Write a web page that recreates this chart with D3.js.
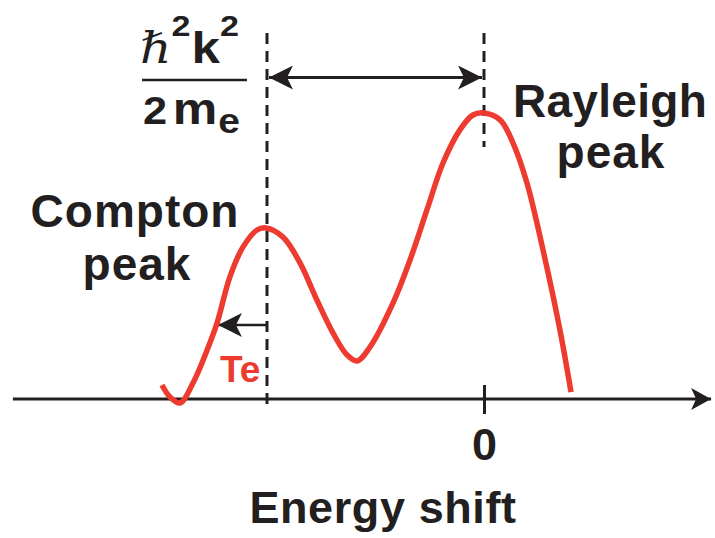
<!DOCTYPE html>
<html>
<head>
<meta charset="utf-8">
<script src="https://cdn.jsdelivr.net/npm/d3@7"></script>
<style>
  html, body { margin: 0; padding: 0; background: #fff; }
  svg { display: block; }
  text { font-family: "Liberation Sans", Arial, Helvetica, sans-serif; font-weight: bold; fill: #231f20; }
</style>
</head>
<body>
<svg id="chart" width="715" height="538"></svg>
<script>
// Energy shift (units of the Compton shift ħ²k²/2mₑ) and relative intensity of the scattered spectrum
const shift = [-1.484, -1.447, -1.401, -1.341, -1.276, -1.230, -1.171, -1.111, -1.046, -1.005,
               -0.926, -0.848, -0.770, -0.696, -0.631, -0.585, -0.525, -0.419, -0.341, -0.263,
               -0.189, -0.111, -0.051, 0.000, 0.074, 0.134, 0.198, 0.272, 0.350, 0.401];
const intensity = [0.049, 0.007, -0.014, 0.056, 0.171, 0.266, 0.427, 0.531, 0.591, 0.598,
                   0.566, 0.476, 0.346, 0.231, 0.154, 0.133, 0.182, 0.336, 0.486, 0.661,
                   0.825, 0.941, 0.993, 1.000, 0.976, 0.895, 0.755, 0.521, 0.241, 0.024];
// Marked positions on the energy axis
const comptonShift = -1;
const rayleighShift = 0;
const teArrowStart = -1.0;
const teArrowEnd = -1.226;
const axisExtent = [-2.171, 1.065];
const tickValues = [0];
const tickLabels = ["0"];

const ink = "#231f20";
const red = "#ee3b30";

const svg = d3.select("#chart");
const x = d3.scaleLinear().domain([comptonShift, rayleighShift]).range([267, 484]);
const y = d3.scaleLinear().domain([0, 1]).range([399, 113]);

const defs = svg.append("defs");
// notched arrowhead
defs.append("marker")
  .attr("id", "arr")
  .attr("viewBox", "0 0 24 24")
  .attr("refX", 24).attr("refY", 12)
  .attr("markerWidth", 24).attr("markerHeight", 24)
  .attr("markerUnits", "userSpaceOnUse")
  .attr("orient", "auto-start-reverse")
  .append("path")
  .attr("d", "M0,0 L24,12 L0,24 L6,12 Z")
  .attr("fill", ink);
defs.append("marker")
  .attr("id", "axarr")
  .attr("viewBox", "0 0 20 22")
  .attr("refX", 20).attr("refY", 11)
  .attr("markerWidth", 20).attr("markerHeight", 22)
  .attr("markerUnits", "userSpaceOnUse")
  .attr("orient", "auto")
  .append("path")
  .attr("d", "M0,0 L20,11 L0,22 L5,11 Z")
  .attr("fill", ink);

// energy axis
svg.append("line")
  .attr("x1", x(axisExtent[0])).attr("x2", x(axisExtent[1]) - 4)
  .attr("y1", y(0)).attr("y2", y(0))
  .attr("stroke", ink).attr("stroke-width", 3)
  .attr("marker-end", "url(#axarr)");

// ticks
const axis = d3.axisBottom(x).tickValues(tickValues).tickFormat((d, i) => tickLabels[i])
  .tickSize(15).tickPadding(14);
const ag = svg.append("g").attr("transform", `translate(0,${y(0)})`).call(axis);
ag.select(".domain").remove();
ag.selectAll(".tick line").attr("stroke", ink).attr("stroke-width", 3).attr("y1", -14);
ag.selectAll(".tick text")
  .attr("font-size", 45).attr("fill", ink)
  .style("font-family", '"Liberation Sans", Arial, sans-serif').style("font-weight", "bold");

// dashed guides at the Compton and Rayleigh positions
svg.append("line")
  .attr("x1", x(comptonShift)).attr("x2", x(comptonShift))
  .attr("y1", 33).attr("y2", 407)
  .attr("stroke", ink).attr("stroke-width", 3).attr("stroke-dasharray", "11,7");
svg.append("line")
  .attr("x1", x(rayleighShift)).attr("x2", x(rayleighShift))
  .attr("y1", 33).attr("y2", 147)
  .attr("stroke", ink).attr("stroke-width", 3).attr("stroke-dasharray", "11,7");

// double arrow for the recoil shift
svg.append("line")
  .attr("x1", x(comptonShift) + 2).attr("x2", x(rayleighShift) - 2)
  .attr("y1", 77.5).attr("y2", 77.5)
  .attr("stroke", ink).attr("stroke-width", 3)
  .attr("marker-start", "url(#arr)").attr("marker-end", "url(#arr)");

// thermal broadening arrow
svg.append("line")
  .attr("x1", x(teArrowStart) - 1).attr("x2", x(teArrowEnd))
  .attr("y1", 325).attr("y2", 325)
  .attr("stroke", ink).attr("stroke-width", 2.5)
  .attr("marker-end", "url(#arr)");

// spectrum
const pts = shift.map((s, i) => [s, intensity[i]]);
svg.append("path")
  .datum(pts)
  .attr("d", d3.line().x(d => x(d[0])).y(d => y(d[1])).curve(d3.curveCatmullRom.alpha(0.5)))
  .attr("fill", "none").attr("stroke", red).attr("stroke-width", 5.5);

// labels
function label(txt, cx, by, size, ls) {
  svg.append("text").attr("x", cx).attr("y", by).attr("text-anchor", "middle")
    .attr("font-size", size).attr("letter-spacing", ls).text(txt);
}
label("Compton", 135, 227, 46, 1);
label("peak", 137, 280, 46, 1);
label("Rayleigh", 610, 117, 46, 0.3);
label("peak", 611, 168, 46, 1);
label("Energy shift", 383, 523, 45, 0.6);

svg.append("text").attr("x", 220).attr("y", 382)
  .attr("font-size", 37).style("fill", red).text("Te");

// ħ²k² / 2mₑ
const num = svg.append("text").attr("x", 140).attr("y", 63)
  .attr("textLength", 99).attr("lengthAdjust", "spacingAndGlyphs");
num.append("tspan").text("\u210F")
  .style("font-family", '"DejaVu Serif", "Liberation Serif", serif')
  .style("font-style", "italic").style("font-weight", "normal")
  .attr("font-size", 43);
num.append("tspan").text("2").attr("font-size", 30).attr("dy", -27).attr("dx", 0);
num.append("tspan").text("k").attr("font-size", 45).attr("dy", 27).attr("dx", 1);
num.append("tspan").text("2").attr("font-size", 30).attr("dy", -27).attr("dx", 0);

svg.append("line").attr("x1", 142).attr("x2", 247).attr("y1", 80).attr("y2", 80)
  .attr("stroke", ink).attr("stroke-width", 2.5);

const den = svg.append("text").attr("x", 143).attr("y", 124)
  .attr("textLength", 97).attr("lengthAdjust", "spacingAndGlyphs");
den.append("tspan").text("2").attr("font-size", 39);
den.append("tspan").text("m").attr("font-size", 45).attr("dx", 5);
den.append("tspan").text("e").attr("font-size", 35).attr("dy", 9).attr("dx", 1);
</script>
</body>
</html>
